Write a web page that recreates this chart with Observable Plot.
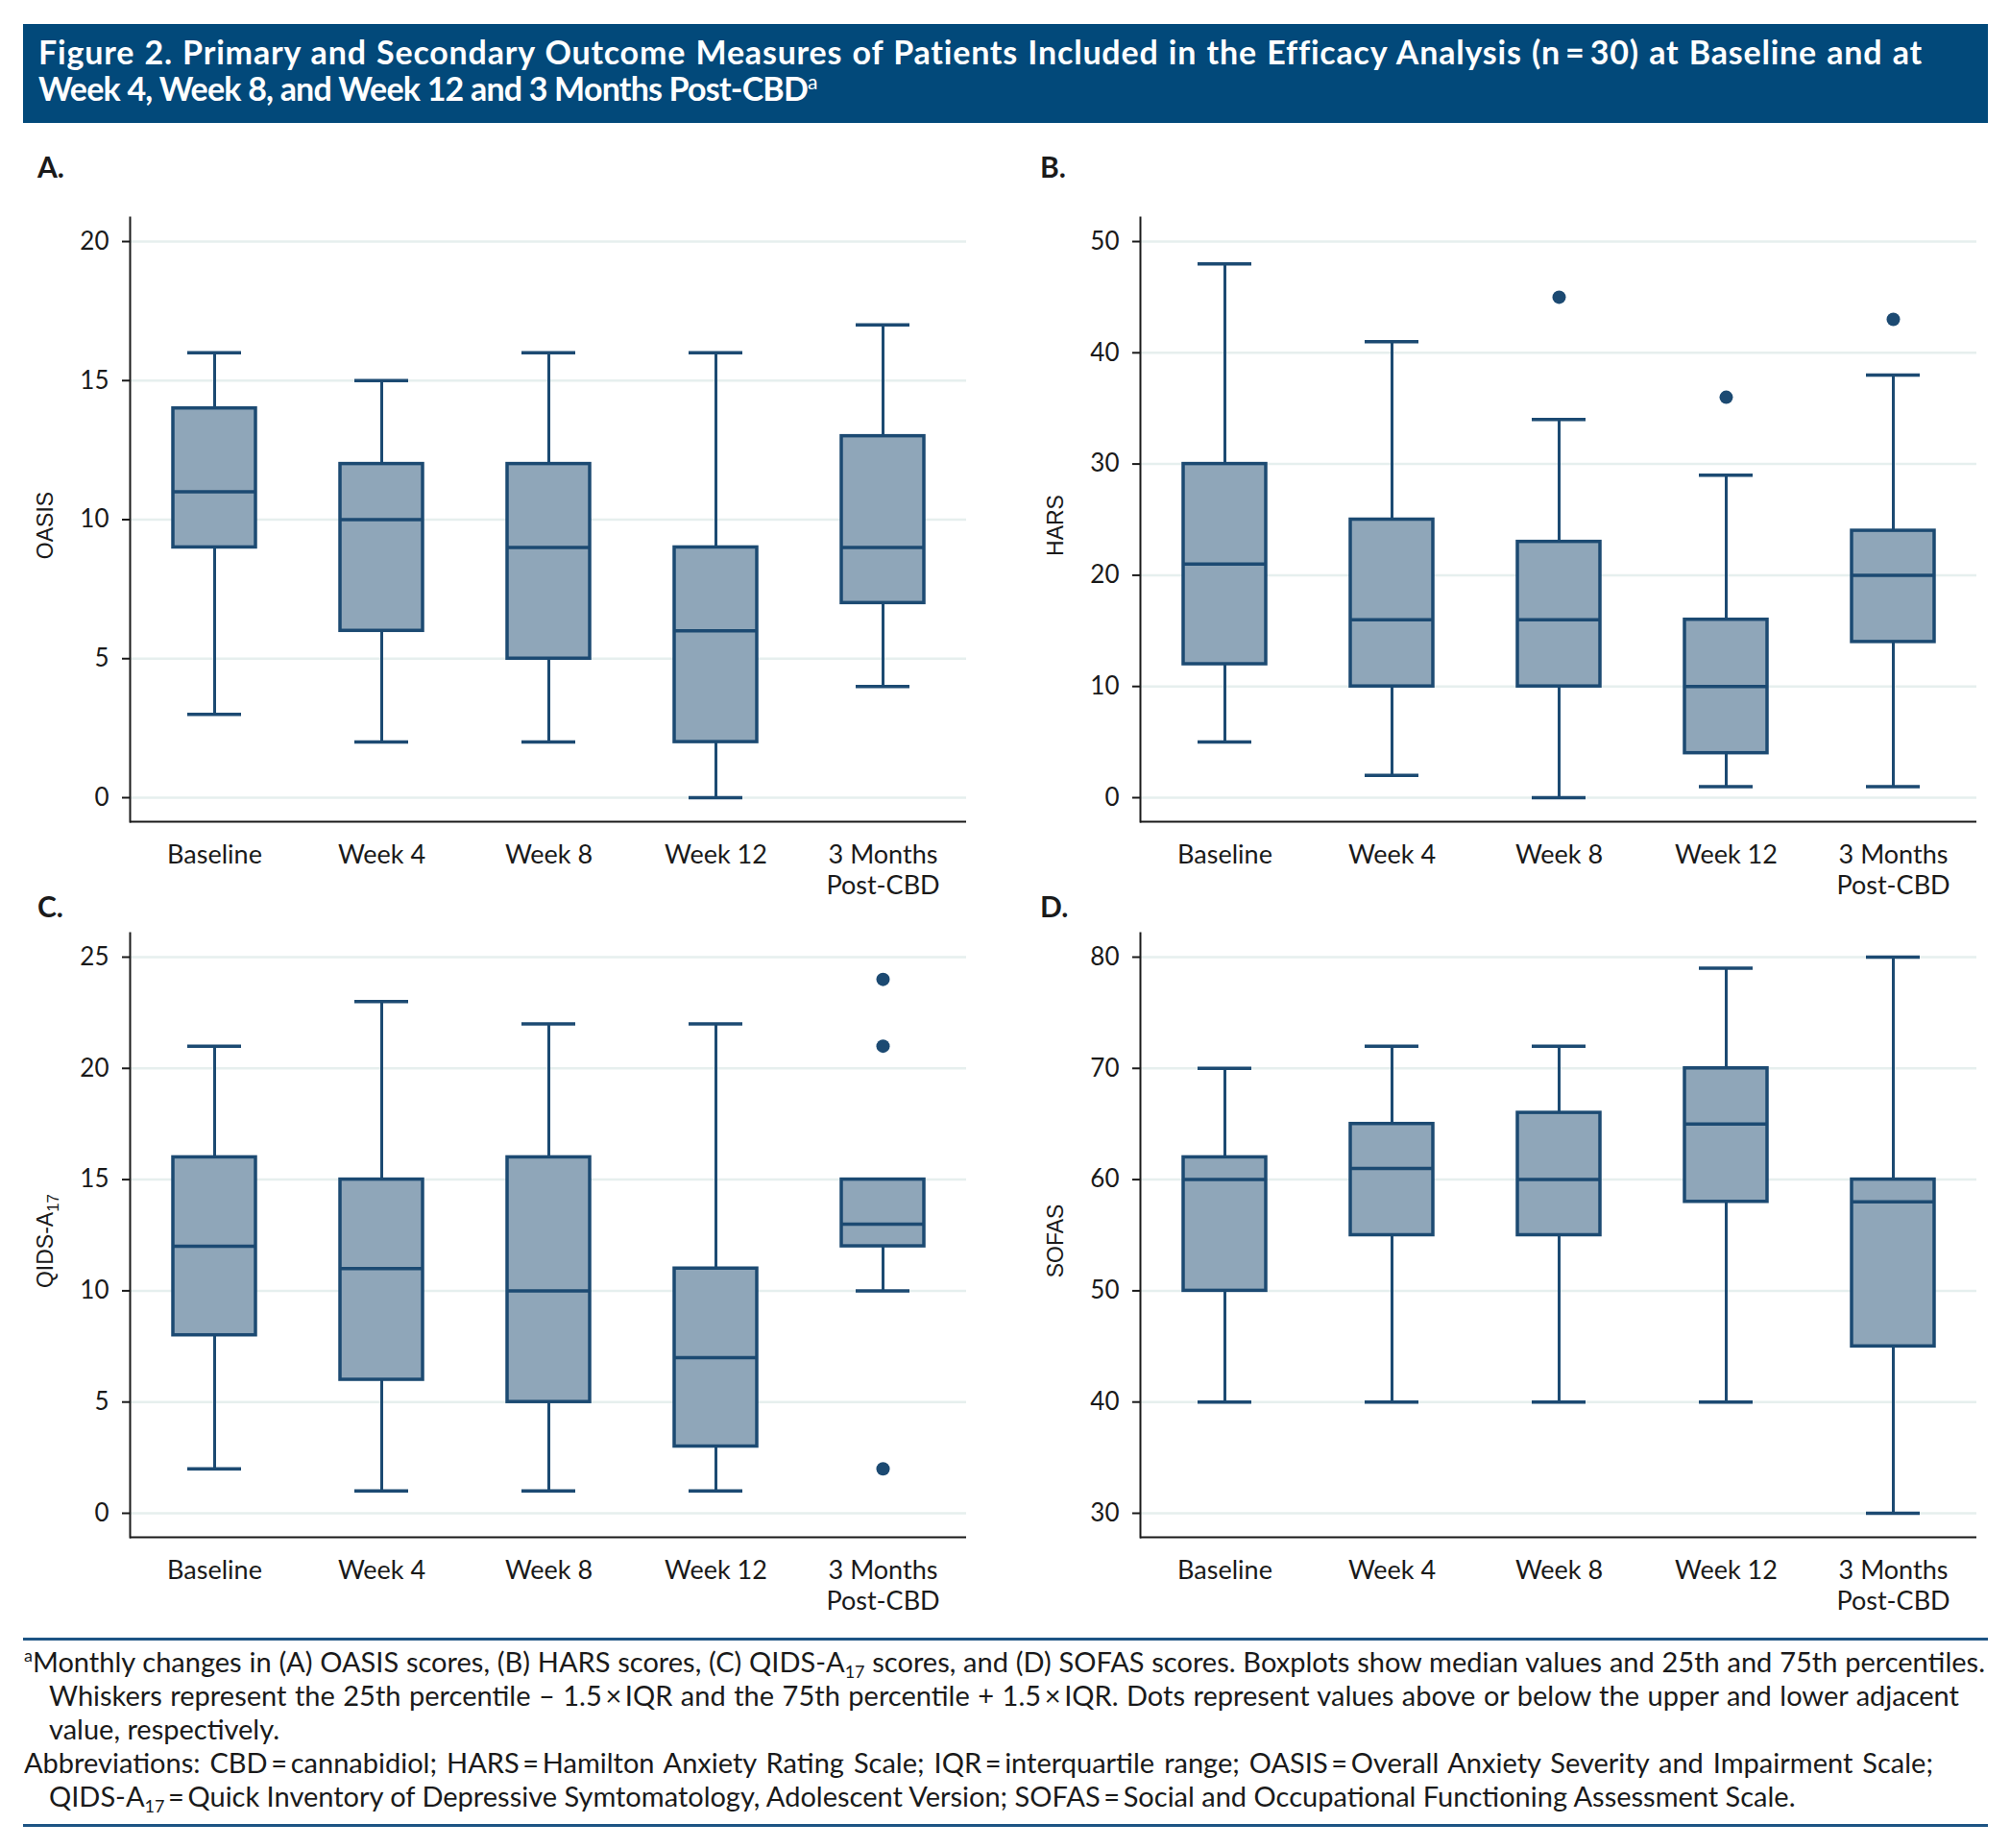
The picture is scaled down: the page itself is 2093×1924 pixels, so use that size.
<!DOCTYPE html>
<html>
<head>
<meta charset="utf-8">
<script src="https://cdn.jsdelivr.net/npm/d3@7"></script>
<script src="https://cdn.jsdelivr.net/npm/@observablehq/plot@0.6"></script>
<style>
  html, body { margin: 0; padding: 0; background: #ffffff; }
  body { width: 2093px; height: 1924px; position: relative; font-family: Lato, "Open Sans", sans-serif; color: #1a1a1a; overflow: hidden; }
  #banner { position: absolute; left: 24px; top: 25px; width: 2046px; height: 103px; background: #02497a; color: #ffffff; font-weight: 700; font-size: 34px; line-height: 38px; box-sizing: border-box; padding: 10px 0 0 16px; white-space: nowrap; }
  #banner .l1 { width: 1962px; letter-spacing: 0.8px; text-align: justify; text-align-last: justify; }
  #banner .l2 { letter-spacing: -0.8px; }
  #banner sup { font-size: 21px; font-weight: 400; vertical-align: 12px; line-height: 0; }
  .plabel { position: absolute; font-weight: 700; font-size: 30px; line-height: 30px; color: #1a1a1a; }
  .panel { position: absolute; }
  .rule { position: absolute; left: 24px; width: 2046px; height: 3px; background: #1d5484; }
  #footer { position: absolute; left: 25px; top: 1712px; font-size: 29px; line-height: 35px; white-space: nowrap; color: #1a1a1a; }
  #footer .j { text-align: justify; text-align-last: justify; }
  #footer .ind { padding-left: 26px; }
  #footer sup { font-size: 18px; vertical-align: 11px; line-height: 0; }
  #footer sub { font-size: 18px; vertical-align: -6px; line-height: 0; }
</style>
</head>
<body>
<div id="banner"><div class="l1">Figure 2. Primary and Secondary Outcome Measures of Patients Included in the Efficacy Analysis (n&#8201;=&#8201;30) at Baseline and at</div><div class="l2">Week 4, Week 8, and Week 12 and 3 Months Post-CBD<sup>a</sup></div></div>

<div class="plabel" style="left:39px;top:158px">A.</div>
<div class="plabel" style="left:1083px;top:158px">B.</div>
<div class="plabel" style="left:39px;top:928px">C.</div>
<div class="plabel" style="left:1083px;top:928px">D.</div>

<div class="panel" id="pA" style="left:0px;top:200px"></div>
<div class="panel" id="pB" style="left:1050px;top:200px"></div>
<div class="panel" id="pC" style="left:0px;top:945px"></div>
<div class="panel" id="pD" style="left:1050px;top:945px"></div>

<div class="rule" style="top:1705px"></div>
<div id="footer">
  <div class="j" style="width:2042px"><sup>a</sup>Monthly changes in (A) OASIS scores, (B) HARS scores, (C) QIDS-A<sub>17</sub> scores, and (D) SOFAS scores. Boxplots show median values and 25th and 75th percentiles.</div>
  <div class="ind j" style="width:1989px">Whiskers represent the 25th percentile &#8211; 1.5&#8201;&#215;&#8201;IQR and the 75th percentile + 1.5&#8201;&#215;&#8201;IQR. Dots represent values above or below the upper and lower adjacent</div>
  <div class="ind">value, respectively.</div>
  <div class="j" style="width:1988px">Abbreviations: CBD&#8201;=&#8201;cannabidiol; HARS&#8201;=&#8201;Hamilton Anxiety Rating Scale; IQR&#8201;=&#8201;interquartile range; OASIS&#8201;=&#8201;Overall Anxiety Severity and Impairment Scale;</div>
  <div class="ind">QIDS-A<sub>17</sub>&#8201;=&#8201;Quick Inventory of Depressive Symtomatology, Adolescent Version; SOFAS&#8201;=&#8201;Social and Occupational Functioning Assessment Scale.</div>
</div>
<div class="rule" style="top:1899px"></div>

<script>
// ---------------- DATA ----------------
const categories = ["Baseline", "Week 4", "Week 8", "Week 12", "3 Months Post-CBD"];
const labelLine1 = ["Baseline", "Week 4", "Week 8", "Week 12", "3 Months"];
const labelLine2 = ["", "", "", "", "Post-CBD"];

// five-number summaries per category: [lower whisker, 25th pct, median, 75th pct, upper whisker]
const oasisBoxes = [[3, 9, 11, 14, 16], [2, 6, 10, 12, 15], [2, 5, 9, 12, 16], [0, 2, 6, 9, 16], [4, 7, 9, 13, 17]];
const harsBoxes  = [[5, 12, 21, 30, 48], [2, 10, 16, 25, 41], [0, 10, 16, 23, 34], [1, 4, 10, 16, 29], [1, 14, 20, 24, 38]];
const qidsBoxes  = [[2, 8, 12, 16, 21], [1, 6, 11, 15, 23], [1, 5, 10, 16, 22], [1, 3, 7, 11, 22], [10, 12, 13, 15, 15]];
const sofasBoxes = [[40, 50, 60, 62, 70], [40, 55, 61, 65, 72], [40, 55, 60, 66, 72], [40, 58, 65, 70, 79], [30, 45, 58, 60, 80]];

// outliers: [category, value]
const oasisOutliers = [];
const harsOutliers  = [["Week 8", 45], ["Week 12", 36], ["3 Months Post-CBD", 43]];
const qidsOutliers  = [["3 Months Post-CBD", 24], ["3 Months Post-CBD", 21], ["3 Months Post-CBD", 2]];
const sofasOutliers = [];

// y tick labels
const oasisTicks = [0, 5, 10, 15, 20];
const harsTicks  = [0, 10, 20, 30, 40, 50];
const qidsTicks  = [0, 5, 10, 15, 20, 25];
const sofasTicks = [30, 40, 50, 60, 70, 80];

// axis titles: [main text, subscript]
const oasisLabel = ["OASIS", ""];
const harsLabel  = ["HARS", ""];
const qidsLabel  = ["QIDS-A", "17"];
const sofasLabel = ["SOFAS", ""];

// ---------------- STYLE ----------------
const DARK = "#1c4a72";
const FILL = "#8fa6b9";
const GRID = "#e6efee";
const AXIS = "#1a1a1a";

function panel(target, boxes, outliers, ticks, yLabel, opts) {
  const rows = categories.map((c, i) => ({
    cat: c, low: boxes[i][0], q1: boxes[i][1], med: boxes[i][2], q3: boxes[i][3], high: boxes[i][4]
  }));
  const lo = ticks[0], hi = ticks[ticks.length - 1];
  const pad = (hi - lo) * 25 / 579;
  const yDomain = [lo - pad, hi + pad];
  const chart = Plot.plot({
    width: opts.width,
    height: 740,
    marginLeft: opts.ml,
    marginRight: opts.mr,
    marginTop: 26,
    marginBottom: 85,
    style: { fontFamily: "Lato, 'Open Sans', sans-serif", fontSize: "26px", color: AXIS, background: "transparent", overflow: "visible" },
    x: { type: "band", domain: categories, padding: 0, axis: null, label: null },
    y: { domain: yDomain, label: null, axis: null },
    marks: [
      Plot.ruleY(ticks, { stroke: GRID, strokeWidth: 2.5 }),
      Plot.ruleY([yDomain[0]], { stroke: AXIS, strokeWidth: 2 }),
      Plot.frame({ anchor: "left", stroke: AXIS, strokeWidth: 2 }),
      Plot.axisY(ticks, { tickSize: 8, tickPadding: 14, strokeWidth: 2, label: null, fontSize: 26, fill: AXIS }),
      Plot.ruleX(rows, { x: "cat", y1: "low", y2: "q1", stroke: DARK, strokeWidth: 3 }),
      Plot.ruleX(rows, { x: "cat", y1: "q3", y2: "high", stroke: DARK, strokeWidth: 3 }),
      Plot.tickY(rows, { x: "cat", y: "low", stroke: DARK, strokeWidth: 3.5, insetLeft: 59, insetRight: 59 }),
      Plot.tickY(rows, { x: "cat", y: "high", stroke: DARK, strokeWidth: 3.5, insetLeft: 59, insetRight: 59 }),
      Plot.barY(rows, { x: "cat", y1: "q1", y2: "q3", fill: FILL, stroke: DARK, strokeWidth: 3.5, insetLeft: 44, insetRight: 44 }),
      Plot.tickY(rows, { x: "cat", y: "med", stroke: DARK, strokeWidth: 3.5, insetLeft: 44, insetRight: 44 }),
      Plot.dot(outliers, { x: d => d[0], y: d => d[1], r: 7, fill: DARK, stroke: "none" }),
      Plot.text(labelLine1, { x: (d, i) => categories[i], text: d => d, frameAnchor: "bottom", dy: 43, fontSize: 27, fill: AXIS }),
      Plot.text(labelLine2, { x: (d, i) => categories[i], text: d => d, frameAnchor: "bottom", dy: 75, fontSize: 27, fill: AXIS }),
      Plot.text([yLabel[0] + yLabel[1]], { text: d => d, frameAnchor: "left", textAnchor: "middle", rotate: -90, dx: -88, dy: 6, fontSize: 23, fontFamily: "'Liberation Sans', Arial, sans-serif", fill: AXIS, ariaLabel: "y-title" })
    ]
  });
  // render the subscript part of the axis title as a real subscript
  if (yLabel[1]) {
    chart.querySelectorAll("text").forEach(t => {
      if (t.textContent === yLabel[0] + yLabel[1]) {
        t.textContent = yLabel[0];
        const ts = document.createElementNS("http://www.w3.org/2000/svg", "tspan");
        ts.setAttribute("font-size", "17");
        ts.setAttribute("dy", "6");
        ts.textContent = yLabel[1];
        t.appendChild(ts);
      }
    });
  }
  document.getElementById(target).appendChild(chart);
}

panel("pA", oasisBoxes, oasisOutliers, oasisTicks, oasisLabel, { width: 1040, ml: 135, mr: 34 });
panel("pB", harsBoxes, harsOutliers, harsTicks, harsLabel, { width: 1043, ml: 137, mr: 35 });
panel("pC", qidsBoxes, qidsOutliers, qidsTicks, qidsLabel, { width: 1040, ml: 135, mr: 34 });
panel("pD", sofasBoxes, sofasOutliers, sofasTicks, sofasLabel, { width: 1043, ml: 137, mr: 35 });
</script>
</body>
</html>
